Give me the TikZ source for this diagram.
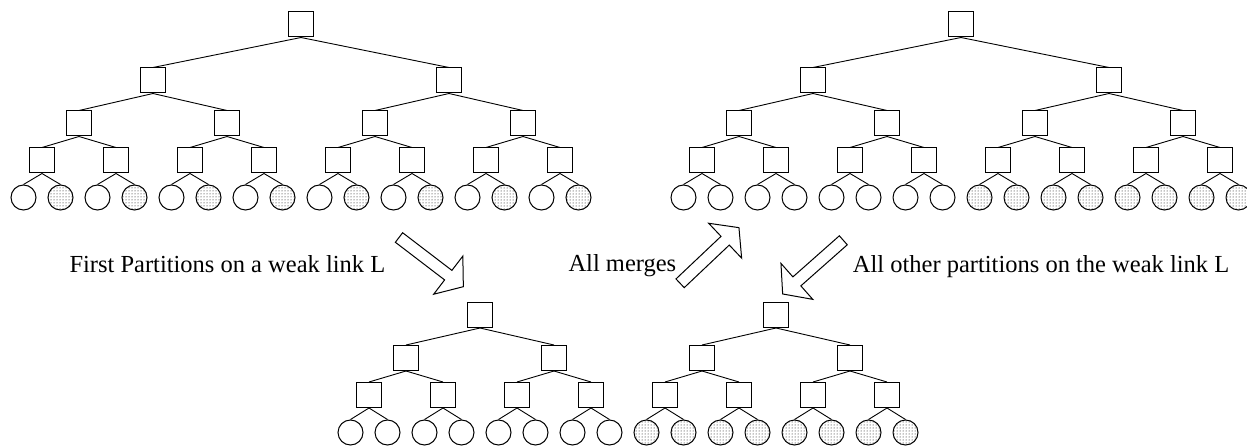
\documentclass[tikz,border=0pt]{standalone}
\usepackage{fontspec}
\setmainfont{Liberation Serif}
\usetikzlibrary{patterns}
\tikzset{
  sq/.style={draw, line width=1pt, minimum size=25pt, inner sep=0pt, fill=white},
  lf/.style={draw, circle, line width=1pt, minimum size=25pt, inner sep=0pt},
  wl/.style={lf, fill=white},
  dl/.style={lf, pattern=dots, pattern color=black},
  edge/.style={line width=0.9pt},
  lbl/.style={font=\fontsize{24.5pt}{29pt}\selectfont, anchor=base west, inner sep=0pt},
  bigarrow/.style={draw, line width=1pt, fill=white, line join=miter}
}
% big tree: #1 prefix, #2 x of first level-3 node, #3 expression (0/1) for dotted leaf
\newcommand{\bigtree}[3]{%
  \node[sq] (#1r) at (#2+259, 24.5) {};
  \foreach \i in {0,1} \node[sq] (#1a\i) at (#2+111+296*\i, 80.5) {};
  \foreach \i in {0,...,3} \node[sq] (#1b\i) at (#2+37+148*\i, 123.5) {};
  \foreach \i in {0,...,7} \node[sq] (#1c\i) at (#2+74*\i, 160.5) {};
  \foreach \k in {0,...,15} {
    \pgfmathtruncatemacro{\dd}{#3}
    \ifnum\dd=1 \def\st{dl}\else\def\st{wl}\fi
    \node[\st] (#1l\k) at (#2-18.5+37*\k, 197.5) {};
  }
  \foreach \i in {0,1} \draw[edge] (#1r.south) -- (#1a\i.north);
  \foreach \i in {0,...,3} {\pgfmathtruncatemacro{\p}{int(\i/2)}
    \draw[edge] (#1a\p.south) -- (#1b\i.north);}
  \foreach \i in {0,...,7} {\pgfmathtruncatemacro{\p}{int(\i/2)}
    \draw[edge] (#1b\p.south) -- (#1c\i.north);}
  \foreach \k in {0,...,15} {\pgfmathtruncatemacro{\p}{int(\k/2)}
    \draw[edge] (#1c\p.south) -- (#1l\k.north);}
}
% small tree: #1 prefix, #2 x of first level-2 node, #3 dotted flag
\newcommand{\smalltree}[3]{%
  \node[sq] (#1r) at (#2+111, 315) {};
  \foreach \i in {0,1} \node[sq] (#1a\i) at (#2+37+148*\i, 358) {};
  \foreach \i in {0,...,3} \node[sq] (#1b\i) at (#2+74*\i, 395) {};
  \foreach \k in {0,...,7} {
    \ifnum#3=1 \def\st{dl}\else\def\st{wl}\fi
    \node[\st] (#1l\k) at (#2-18.5+37*\k, 432.5) {};
  }
  \foreach \i in {0,1} \draw[edge] (#1r.south) -- (#1a\i.north);
  \foreach \i in {0,...,3} {\pgfmathtruncatemacro{\p}{int(\i/2)}
    \draw[edge] (#1a\p.south) -- (#1b\i.north);}
  \foreach \k in {0,...,7} {\pgfmathtruncatemacro{\p}{int(\k/2)}
    \draw[edge] (#1b\p.south) -- (#1l\k.north);}
}
% fat arrow: tail centre (#1,#2), canvas angle #3
\newcommand{\fatarrow}[3]{%
  \begin{scope}[shift={(#1,#2)}, rotate=#3]
    \draw[bigarrow] (0,-6) -- (62,-6) -- (62,-24) -- (81,0) -- (62,24) -- (62,6) -- (0,6) -- cycle;
  \end{scope}}
\begin{document}
\begin{tikzpicture}[x=1pt, y=-1pt]
\useasboundingbox (0,0) rectangle (1247,446);
\bigtree{A}{42}{mod(\k,2)}
\bigtree{B}{702}{\k>7}
\smalltree{C}{369}{0}
\smalltree{D}{665}{1}
\fatarrow{399}{237.5}{-37.4}
\fatarrow{680.1}{283.3}{43.4}
\fatarrow{843.3}{240.3}{-138.5}
\node[lbl] (t1) at (69.3,272.7) {First Partitions on a weak link L};
\node[lbl] (t2) at (568.3,271.7) {All merges};
\node[lbl] (t3) at (852.7,272.7) {All other partitions on the weak link L};
\end{tikzpicture}
\end{document}
